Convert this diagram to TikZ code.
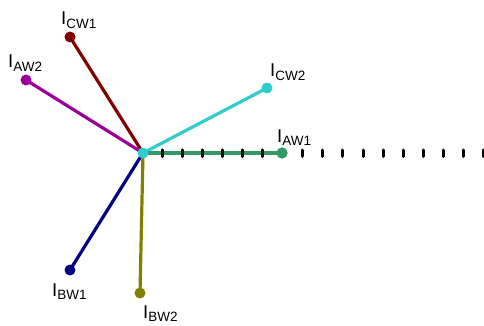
\documentclass[tikz,border=0pt]{standalone}
\usepackage{fontspec}
\setmainfont{Liberation Sans}
\definecolor{cA}{HTML}{800000}
\definecolor{cB}{HTML}{990099}
\definecolor{cC}{HTML}{33CCCC}
\definecolor{cD}{HTML}{339966}
\definecolor{cE}{HTML}{000080}
\definecolor{cF}{HTML}{808000}
\tikzset{
  phasor/.style={line width=3.2pt},
  tipdot/.style={circle,inner sep=0pt,minimum size=11pt},
  lbl/.style={inner sep=0pt,font=\fontsize{18.5}{18.5}\selectfont},
  tick/.style={line width=3pt,line cap=round}
}
\newcommand{\lab}[1]{I\textsubscript{\fontsize{13.5}{13.5}\selectfont #1}}
\begin{document}
\begin{tikzpicture}[x=1pt,y=-1pt]
\useasboundingbox (0,0) rectangle (484,326);
% ticks
\foreach \i in {0,...,16}{
  \draw[tick] ({162+20.1*\i},150) -- ({162+20.1*\i},156.5);
}
\coordinate (o) at (143,153);
\node[tipdot,fill=cA] (cw1) at (70,37) {};
\node[tipdot,fill=cB] (aw2) at (26,80) {};
\node[tipdot,fill=cC] (cw2) at (267,88) {};
\node[tipdot,fill=cD] (aw1) at (282,153) {};
\node[tipdot,fill=cE] (bw1) at (70,270) {};
\node[tipdot,fill=cF] (bw2) at (140,293) {};
\draw[phasor,cA] (o) -- (cw1.center);
\draw[phasor,cB] (o) -- (aw2.center);
\draw[phasor,cE] (o) -- (bw1.center);
\draw[phasor,cF] (o) -- (bw2.center);
\draw[phasor,cC] (o) -- (cw2.center);
\draw[phasor,cD] (o) -- (aw1.center);
\foreach \i in {0,...,5}{
  \draw[tick] ({162+20.1*\i},150) -- ({162+20.1*\i},156.5);
}
\node[tipdot,fill=cD] at (aw1) {};
\node[tipdot,fill=cC] (ctr) at (o) {};
% labels
\node[lbl,anchor=base west] (l1) at (61,25) {\lab{CW1}};
\node[lbl,anchor=base west] (l2) at (8,68) {\lab{AW2}};
\node[lbl,anchor=base west] (l3) at (270,77) {\lab{CW2}};
\node[lbl,anchor=base west] (l4) at (277,142) {\lab{AW1}};
\node[lbl,anchor=base west] (l5) at (52,296) {\lab{BW1}};
\node[lbl,anchor=base west] (l6) at (143,318) {\lab{BW2}};
\end{tikzpicture}
\end{document}
